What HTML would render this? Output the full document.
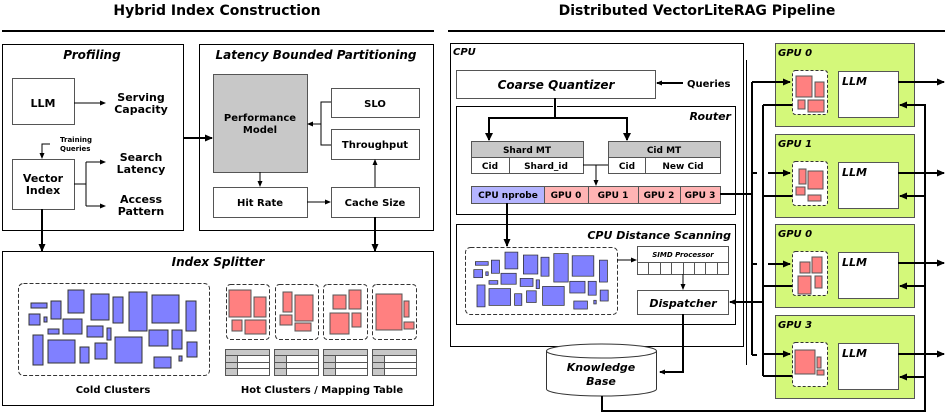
<!DOCTYPE html>
<html><head><meta charset="utf-8"><style>
html,body{margin:0;padding:0;background:#fff;}
svg{display:block;font-family:"DejaVu Sans","Liberation Sans",sans-serif;}
.b{font-weight:bold;}
.bi{font-weight:bold;font-style:italic;}
</style></head><body>
<svg width="947" height="414" viewBox="0 0 947 414" xmlns="http://www.w3.org/2000/svg">
<defs>
<marker id="a" markerWidth="8" markerHeight="8" refX="7" refY="4" orient="auto" markerUnits="userSpaceOnUse"><path d="M0,0.5 L8,4 L0,7.5z" fill="#000"/></marker>
<marker id="s" markerWidth="6" markerHeight="6" refX="5" refY="3" orient="auto" markerUnits="userSpaceOnUse"><path d="M0,0.5 L6,3 L0,5.5z" fill="#000"/></marker>
<g id="cold">
<g fill="#8080ff" stroke="#333" stroke-width="1">
<rect x="31" y="303" width="16" height="5"/><rect x="51" y="301" width="10" height="18"/><rect x="68" y="290" width="16" height="23"/><rect x="91" y="294" width="18" height="26"/><rect x="113" y="297" width="10" height="26"/><rect x="129" y="292" width="18" height="39"/><rect x="152" y="295" width="27" height="28"/><rect x="186" y="301" width="10" height="30"/><rect x="29" y="314" width="11" height="11"/><rect x="44" y="317" width="3" height="5"/><rect x="48" y="329" width="11" height="5"/><rect x="63" y="319" width="19" height="15"/><rect x="87" y="326" width="16" height="11"/><rect x="107" y="328" width="4" height="12"/><rect x="33" y="335" width="10" height="30"/><rect x="48" y="340" width="27" height="23"/><rect x="80" y="347" width="9" height="16"/><rect x="95" y="343" width="12" height="16"/><rect x="115" y="337" width="27" height="26"/><rect x="149" y="330" width="19" height="16"/><rect x="172" y="330" width="10" height="19"/><rect x="187" y="342" width="10" height="15"/><rect x="154" y="357" width="17" height="11"/><rect x="179" y="356" width="3" height="5"/>
</g></g>
<g id="tbl">
<rect x="0" y="0" width="44" height="26" fill="#fff" stroke="#555"/>
<rect x="0" y="0" width="44" height="6" fill="#c8c8c8" stroke="#555"/>
<rect x="0" y="6" width="12" height="20" fill="#c8c8c8" stroke="#555"/>
<line x1="0" y1="13" x2="44" y2="13" stroke="#555"/><line x1="0" y1="19" x2="44" y2="19" stroke="#555"/>
</g>
<g id="g0">
<rect x="775.5" y="43.5" width="139" height="83" fill="#d4f87a" stroke="#555"/>
<rect x="792.5" y="70.5" width="35" height="44" rx="3" fill="#fff" stroke="#333" stroke-dasharray="3,2"/>
<rect x="838.5" y="71.5" width="60" height="46" fill="#fff" stroke="#555"/>
<text x="842" y="85" class="bi" font-size="11">LLM</text>
<line x1="898" y1="82" x2="944" y2="82" stroke="#000" stroke-width="2" marker-end="url(#a)"/>
<line x1="925" y1="105" x2="900" y2="105" stroke="#000" stroke-width="2" marker-end="url(#a)"/>
</g>
</defs>

<!-- LEFT -->
<text x="217" y="15" text-anchor="middle" class="b" font-size="14">Hybrid Index Construction</text>
<line x1="2" y1="31" x2="434" y2="31" stroke="#000" stroke-width="2"/>
<rect x="2.5" y="44.5" width="181" height="186" fill="none" stroke="#000"/>
<text x="92" y="59" text-anchor="middle" class="bi" font-size="12">Profiling</text>
<rect x="199.5" y="44.5" width="234" height="186" fill="none" stroke="#000"/>
<text x="316" y="59" text-anchor="middle" class="bi" font-size="12">Latency Bounded Partitioning</text>

<rect x="12.5" y="78.5" width="62" height="46" fill="#fff" stroke="#555"/>
<text x="43" y="107" text-anchor="middle" class="b" font-size="11">LLM</text>
<line x1="74" y1="103" x2="105" y2="103" stroke="#000" marker-end="url(#s)"/>
<text x="141" y="101" text-anchor="middle" class="b" font-size="11">Serving</text>
<text x="141" y="113" text-anchor="middle" class="b" font-size="11">Capacity</text>
<text x="60" y="142" class="b" font-size="7">Training</text>
<text x="60" y="151" class="b" font-size="7">Queries</text>
<polyline points="50,144 42,144 42,158" fill="none" stroke="#000" marker-end="url(#s)"/>
<rect x="12.5" y="159.5" width="62" height="50" fill="#fff" stroke="#555"/>
<text x="43" y="182" text-anchor="middle" class="b" font-size="11">Vector</text>
<text x="43" y="194" text-anchor="middle" class="b" font-size="11">Index</text>
<polyline points="74,184 86,184" fill="none" stroke="#000"/>
<line x1="86" y1="162" x2="86" y2="206" stroke="#000"/>
<line x1="86" y1="162" x2="105" y2="162" stroke="#000" marker-end="url(#s)"/>
<line x1="86" y1="206" x2="105" y2="206" stroke="#000" marker-end="url(#s)"/>
<text x="141" y="161" text-anchor="middle" class="b" font-size="11">Search</text>
<text x="141" y="173" text-anchor="middle" class="b" font-size="11">Latency</text>
<text x="141" y="203" text-anchor="middle" class="b" font-size="11">Access</text>
<text x="141" y="215" text-anchor="middle" class="b" font-size="11">Pattern</text>
<line x1="42" y1="209" x2="42" y2="251" stroke="#000" stroke-width="2" marker-end="url(#a)"/>
<line x1="183" y1="138" x2="212" y2="138" stroke="#000" stroke-width="2" marker-end="url(#a)"/>

<rect x="213.5" y="74.5" width="94" height="98" fill="#c8c8c8" stroke="#555"/>
<text x="260" y="121" text-anchor="middle" class="b" font-size="10">Performance</text>
<text x="260" y="133" text-anchor="middle" class="b" font-size="10">Model</text>
<rect x="331.5" y="88.5" width="88" height="29" fill="#fff" stroke="#555"/>
<text x="375" y="107" text-anchor="middle" class="b" font-size="10">SLO</text>
<rect x="331.5" y="129.5" width="88" height="30" fill="#fff" stroke="#555"/>
<text x="375" y="148" text-anchor="middle" class="b" font-size="10">Throughput</text>
<polyline points="331,102 321,102 321,145 331,145" fill="none" stroke="#000"/>
<line x1="321" y1="124" x2="308" y2="124" stroke="#000" marker-end="url(#s)"/>
<rect x="213.5" y="187.5" width="94" height="30" fill="#fff" stroke="#555"/>
<text x="260" y="206" text-anchor="middle" class="b" font-size="10">Hit Rate</text>
<rect x="331.5" y="187.5" width="88" height="30" fill="#fff" stroke="#555"/>
<text x="375" y="206" text-anchor="middle" class="b" font-size="10">Cache Size</text>
<line x1="260" y1="172" x2="260" y2="186" stroke="#000" marker-end="url(#s)"/>
<line x1="307" y1="202" x2="330" y2="202" stroke="#000" marker-end="url(#s)"/>
<line x1="375" y1="187" x2="375" y2="160" stroke="#000" marker-end="url(#s)"/>
<line x1="375" y1="217" x2="375" y2="251" stroke="#000" stroke-width="2" marker-end="url(#a)"/>

<rect x="2.5" y="251.5" width="431" height="154" fill="none" stroke="#000"/>
<text x="218" y="266" text-anchor="middle" class="bi" font-size="12">Index Splitter</text>
<rect x="18.5" y="283.5" width="191" height="92" rx="5" fill="none" stroke="#333" stroke-dasharray="4,2"/>
<use href="#cold"/>
<text x="113" y="393" text-anchor="middle" class="b" font-size="10">Cold Clusters</text>
<g fill="none" stroke="#333" stroke-dasharray="4,2">
<rect x="226.5" y="284.5" width="43" height="55" rx="4"/><rect x="275.5" y="284.5" width="43" height="55" rx="4"/><rect x="323.5" y="284.5" width="44" height="55" rx="4"/><rect x="372.5" y="284.5" width="44" height="55" rx="4"/>
</g>
<g fill="#ff8080" stroke="#555">
<rect x="229" y="290" width="22" height="27"/><rect x="254" y="297" width="12" height="20"/><rect x="232" y="320" width="10" height="11"/><rect x="245" y="320" width="21" height="14"/>
<rect x="283" y="292" width="9" height="20"/><rect x="295" y="295" width="18" height="26"/><rect x="280" y="315" width="12" height="10"/><rect x="295" y="323" width="16" height="8"/>
<rect x="333" y="295" width="13" height="14"/><rect x="349" y="290" width="12" height="19"/><rect x="330" y="313" width="19" height="21"/><rect x="352" y="313" width="9" height="14"/>
<rect x="376" y="294" width="26" height="36"/><rect x="404" y="301" width="5" height="16"/><rect x="404" y="322" width="10" height="7"/>
</g>
<use href="#tbl" x="225.5" y="349.5"/><use href="#tbl" x="274.5" y="349.5"/><use href="#tbl" x="323.5" y="349.5"/><use href="#tbl" x="372.5" y="349.5"/>
<text x="322" y="393" text-anchor="middle" class="b" font-size="10">Hot Clusters / Mapping Table</text>

<!-- RIGHT -->
<text x="697" y="15" text-anchor="middle" class="b" font-size="14">Distributed VectorLiteRAG Pipeline</text>
<line x1="448" y1="31" x2="945" y2="31" stroke="#000" stroke-width="2"/>
<rect x="450.5" y="43.5" width="293" height="303" fill="none" stroke="#000"/>
<text x="453" y="55" class="bi" font-size="10">CPU</text>
<rect x="456.5" y="70.5" width="199" height="28" fill="#fff" stroke="#555"/>
<text x="556" y="89" text-anchor="middle" class="bi" font-size="12">Coarse Quantizer</text>
<line x1="683" y1="83" x2="657" y2="83" stroke="#000" stroke-width="2" marker-end="url(#s)"/>
<text x="687" y="87" class="b" font-size="10">Queries</text>

<rect x="456.5" y="106.5" width="279" height="108" fill="none" stroke="#000"/>
<text x="731" y="120" text-anchor="end" class="bi" font-size="11">Router</text>
<line x1="553" y1="106.5" x2="557" y2="106.5" stroke="#fff" stroke-width="3"/>
<line x1="555" y1="98" x2="555" y2="118" stroke="#000" stroke-width="2"/>
<polyline points="489,140 489,118 627,118 627,140" fill="none" stroke="#000" stroke-width="2"/>
<path d="M485,133 L493,133 L489,141z M623,133 L631,133 L627,141z" fill="#000"/>
<g stroke="#555">
<rect x="471.5" y="141.5" width="112" height="16" fill="#c8c8c8"/><rect x="471.5" y="157.5" width="112" height="16" fill="#fff"/><line x1="509.5" y1="157" x2="509.5" y2="173"/>
<rect x="608.5" y="141.5" width="112" height="16" fill="#c8c8c8"/><rect x="608.5" y="157.5" width="112" height="16" fill="#fff"/><line x1="645.5" y1="157" x2="645.5" y2="173"/>
</g>
<g font-size="9" class="b" text-anchor="middle">
<text x="527" y="153">Shard MT</text><text x="490" y="169">Cid</text><text x="546" y="169">Shard_id</text>
<text x="664" y="153">Cid MT</text><text x="627" y="169">Cid</text><text x="683" y="169">New Cid</text>
</g>
<line x1="583" y1="165" x2="608" y2="165" stroke="#000"/>
<line x1="596" y1="165" x2="596" y2="185" stroke="#000" marker-end="url(#s)"/>
<g stroke="#555">
<rect x="471.5" y="186.5" width="73" height="17" fill="#b4b4ff"/>
<rect x="544.5" y="186.5" width="44" height="17" fill="#ffb4b4"/><rect x="588.5" y="186.5" width="50" height="17" fill="#ffb4b4"/><rect x="638.5" y="186.5" width="42" height="17" fill="#ffb4b4"/><rect x="680.5" y="186.5" width="40" height="17" fill="#ffb4b4"/>
</g>
<g font-size="9" class="b" text-anchor="middle">
<text x="508" y="198">CPU nprobe</text><text x="566" y="198">GPU 0</text><text x="613" y="198">GPU 1</text><text x="659" y="198">GPU 2</text><text x="700" y="198">GPU 3</text>
</g>
<line x1="720" y1="194" x2="753" y2="194" stroke="#000" stroke-width="2"/>

<rect x="456.5" y="224.5" width="279" height="100" fill="none" stroke="#000"/>
<text x="731" y="239" text-anchor="end" class="bi" font-size="11">CPU Distance Scanning</text>
<line x1="507" y1="203" x2="507" y2="246" stroke="#000" stroke-width="2" marker-end="url(#a)"/>
<rect x="465.5" y="247.5" width="152" height="67" rx="5" fill="none" stroke="#333" stroke-dasharray="4,2"/>
<g transform="translate(465,247) scale(0.8,0.73) translate(-18,-283)"><use href="#cold"/></g>
<line x1="617" y1="260" x2="636" y2="260" stroke="#000" marker-end="url(#s)"/>
<rect x="637.5" y="246.5" width="91" height="28" fill="#fff" stroke="#555"/>
<line x1="637" y1="262.5" x2="728" y2="262.5" stroke="#555"/>
<g stroke="#555"><line x1="648.5" y1="262" x2="648.5" y2="274"/><line x1="660.5" y1="262" x2="660.5" y2="274"/><line x1="671.5" y1="262" x2="671.5" y2="274"/><line x1="683.5" y1="262" x2="683.5" y2="274"/><line x1="694.5" y1="262" x2="694.5" y2="274"/><line x1="705.5" y1="262" x2="705.5" y2="274"/><line x1="717.5" y1="262" x2="717.5" y2="274"/></g>
<text x="683" y="257" text-anchor="middle" class="bi" font-size="7">SIMD Processor</text>
<line x1="683" y1="274" x2="683" y2="289" stroke="#000" marker-end="url(#s)"/>
<rect x="637.5" y="290.5" width="91" height="24" fill="#fff" stroke="#555"/>
<text x="683" y="307" text-anchor="middle" class="bi" font-size="11">Dispatcher</text>
<line x1="763" y1="302" x2="730" y2="302" stroke="#000" stroke-width="2" marker-end="url(#s)"/>
<polyline points="683,314 683,372 660,372" fill="none" stroke="#000" stroke-width="2" marker-end="url(#s)"/>

<path d="M546.5,351 L546.5,389 A55,7 0 0 0 656.5,389 L656.5,351" fill="#fff" stroke="#333"/>
<ellipse cx="601.5" cy="351" rx="55" ry="7" fill="#fff" stroke="#333"/>
<text x="601" y="371" text-anchor="middle" class="bi" font-size="11">Knowledge</text>
<text x="601" y="385" text-anchor="middle" class="bi" font-size="11">Base</text>
<polyline points="602,396 602,411 925,411 925,104" fill="none" stroke="#000" stroke-width="2"/>

<!-- bus lines -->
<line x1="746.5" y1="60" x2="746.5" y2="365" stroke="#000"/>
<line x1="752" y1="82" x2="752" y2="355" stroke="#000" stroke-width="2"/>
<line x1="763" y1="105" x2="763" y2="376" stroke="#000" stroke-width="2"/>

<!-- GPUs -->
<use href="#g0"/><use href="#g0" y="91"/><use href="#g0" y="181"/><use href="#g0" y="272"/>
<text x="778" y="56" class="bi" font-size="10">GPU 0</text>
<text x="778" y="147" class="bi" font-size="10">GPU 1</text>
<text x="778" y="237" class="bi" font-size="10">GPU 0</text>
<text x="778" y="328" class="bi" font-size="10">GPU 3</text>
<g fill="#ff8080" stroke="#555">
<rect x="796" y="76" width="16" height="21"/><rect x="815" y="82" width="9" height="15"/><rect x="798" y="100" width="7" height="9"/><rect x="808" y="100" width="16" height="12"/>
<rect x="799" y="169" width="7" height="15"/><rect x="808" y="171" width="15" height="18"/><rect x="796" y="187" width="9" height="8"/><rect x="808" y="195" width="13" height="6"/>
<rect x="800" y="262" width="10" height="11"/><rect x="812" y="257" width="10" height="16"/><rect x="798" y="276" width="13" height="18"/><rect x="815" y="276" width="7" height="12"/>
<rect x="795" y="350" width="20" height="24"/><rect x="817" y="357" width="4" height="11"/><rect x="817" y="370" width="7" height="5"/>
</g>
<!-- bus to GPUs -->
<line x1="752" y1="82" x2="790" y2="82" stroke="#000" stroke-width="2" marker-end="url(#a)"/>
<line x1="763" y1="105" x2="792" y2="105" stroke="#000" stroke-width="2"/>
<line x1="752" y1="173" x2="757" y2="173" stroke="#000" stroke-width="2"/>
<line x1="768" y1="173" x2="790" y2="173" stroke="#000" stroke-width="2" marker-end="url(#a)"/>
<line x1="763" y1="196" x2="792" y2="196" stroke="#000" stroke-width="2"/>
<line x1="752" y1="264" x2="757" y2="264" stroke="#000" stroke-width="2"/>
<line x1="768" y1="264" x2="790" y2="264" stroke="#000" stroke-width="2" marker-end="url(#a)"/>
<line x1="763" y1="286" x2="792" y2="286" stroke="#000" stroke-width="2"/>
<line x1="752" y1="355" x2="757" y2="355" stroke="#000" stroke-width="2"/>
<line x1="763" y1="354" x2="790" y2="354" stroke="#000" stroke-width="2" marker-end="url(#a)"/>
<line x1="763" y1="376" x2="792" y2="376" stroke="#000" stroke-width="2"/>
</svg>
</body></html>
